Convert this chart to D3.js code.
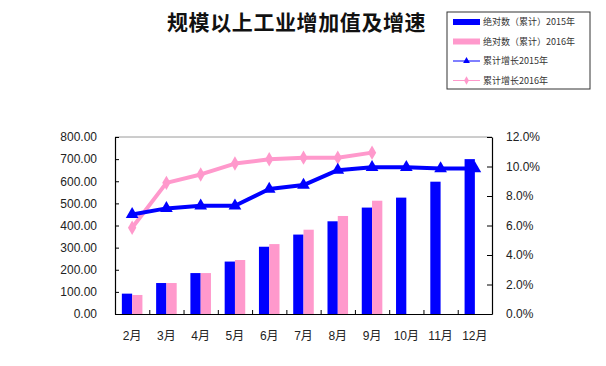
<!DOCTYPE html>
<html>
<head>
<meta charset="utf-8">
<script src="https://cdn.jsdelivr.net/npm/d3@7"></script>
<style>
  body { margin: 0; background: #fff; }
  svg { display: block; font-family: "Liberation Sans", Arial, "Noto Sans CJK SC", sans-serif; }
</style>
</head>
<body>
<div id="root"></div>
<script>
const months = ["2月", "3月", "4月", "5月", "6月", "7月", "8月", "9月", "10月", "11月", "12月"];
const value2015 = [92, 140, 185, 237, 304, 359, 419, 481, 526, 598, 700];
const value2016 = [86, 140, 185, 244, 316, 381, 443, 512];
const growth2015 = [6.75, 7.16, 7.34, 7.34, 8.47, 8.74, 9.75, 9.95, 9.95, 9.86, 9.86];
const growth2016 = [5.85, 8.89, 9.46, 10.2, 10.49, 10.6, 10.6, 10.94];
const leftTicks = [0, 100, 200, 300, 400, 500, 600, 700, 800];
const rightTicks = [0, 2, 4, 6, 8, 10, 12];
const legendItems = [
  { text: "绝对数（累计）2015年", type: "bar", color: "#0000ff" },
  { text: "绝对数（累计）2016年", type: "bar", color: "#ff99cc" },
  { text: "累计增长2015年", type: "line", color: "#0000ff", symbol: d3.symbolTriangle },
  { text: "累计增长2016年", type: "line", color: "#ff99cc", symbol: d3.symbolDiamond }
];

const W = 606, H = 366;
const plot = { left: 115, right: 492, top: 137, bottom: 314 };
const BLUE = "#0000ff", PINK = "#ff99cc";

const svg = d3.select("#root").append("svg")
  .attr("width", W)
  .attr("height", H);

svg.append("rect").attr("width", W).attr("height", H).attr("fill", "#fff");

// title
svg.append("text")
  .text("规模以上工业增加值及增速")
  .attr("x", 167)
  .attr("y", 30)
  .attr("font-family", "'Noto Sans CJK SC', sans-serif")
  .attr("font-size", 21)
  .attr("font-weight", "bold")
  .attr("letter-spacing", 0.6)
  .attr("fill", "#111");

// scales
const x = d3.scaleBand()
  .domain(months)
  .range([plot.left, plot.right])
  .paddingInner(0.4)
  .paddingOuter(0.2);

const xSub = d3.scaleBand()
  .domain(["2015", "2016"])
  .range([0, x.bandwidth()]);

const xEdge = d3.scaleLinear()
  .domain([0, months.length])
  .range([plot.left, plot.right]);

const yLeft = d3.scaleLinear().domain([0, 800]).range([plot.bottom, plot.top]);
const yRight = d3.scaleLinear().domain([0, 12]).range([plot.bottom, plot.top]);

// top border
svg.append("line")
  .attr("x1", plot.left).attr("x2", plot.right)
  .attr("y1", plot.top).attr("y2", plot.top)
  .attr("stroke", "#9a9a9a");

// bars
const bars2015 = value2015.map((v, i) => ({ m: months[i], v }));
const bars2016 = value2016.map((v, i) => ({ m: months[i], v }));

svg.append("g").selectAll("rect")
  .data(bars2015)
  .join("rect")
  .attr("x", d => x(d.m) + xSub("2015"))
  .attr("width", xSub.bandwidth())
  .attr("y", d => yLeft(d.v))
  .attr("height", d => yLeft(0) - yLeft(d.v))
  .attr("fill", BLUE);

svg.append("g").selectAll("rect")
  .data(bars2016)
  .join("rect")
  .attr("x", d => x(d.m) + xSub("2016"))
  .attr("width", xSub.bandwidth())
  .attr("y", d => yLeft(d.v))
  .attr("height", d => yLeft(0) - yLeft(d.v))
  .attr("fill", PINK);

// axes
const leftAxis = d3.axisLeft(yLeft)
  .tickValues(leftTicks)
  .tickFormat(d3.format(".2f"))
  .tickSizeInner(-4)
  .tickSizeOuter(0)
  .tickPadding(18);

const rightAxis = d3.axisRight(yRight)
  .tickValues(rightTicks)
  .tickFormat(d => d.toFixed(1) + "%")
  .tickSizeInner(-5)
  .tickSizeOuter(0)
  .tickPadding(14);

const bottomEdges = d3.axisBottom(xEdge)
  .tickValues(d3.range(1, months.length))
  .tickFormat("")
  .tickSizeInner(-4)
  .tickSizeOuter(0);

const bottomLabels = d3.axisBottom(x)
  .tickSize(0)
  .tickPadding(17);

function styleAxis(g) {
  g.select(".domain").attr("stroke", "#000").attr("stroke-width", 1.2);
  g.selectAll(".tick line").attr("stroke", "#000");
  g.selectAll(".tick text").attr("font-size", 12).attr("fill", "#222");
}

svg.append("g")
  .attr("transform", `translate(${plot.left},0)`)
  .call(leftAxis)
  .call(styleAxis);

svg.append("g")
  .attr("transform", `translate(${plot.right},0)`)
  .call(rightAxis)
  .call(styleAxis);

svg.append("g")
  .attr("transform", `translate(0,${plot.bottom})`)
  .call(bottomEdges)
  .call(styleAxis);

svg.append("g")
  .attr("transform", `translate(0,${plot.bottom})`)
  .call(bottomLabels)
  .call(g => g.select(".domain").remove())
  .call(styleAxis)
  .selectAll("text")
  .attr("font-family", "'Liberation Sans', 'Noto Sans CJK SC', sans-serif");

// lines
const cx = m => x(m) + x.bandwidth() / 2;

const line = d3.line()
  .x(d => cx(d.m))
  .y(d => yRight(d.v));

const pts2015 = growth2015.map((v, i) => ({ m: months[i], v }));
const pts2016 = growth2016.map((v, i) => ({ m: months[i], v }));

svg.append("path")
  .datum(pts2016)
  .attr("d", line)
  .attr("fill", "none")
  .attr("stroke", PINK)
  .attr("stroke-width", 4)
  .attr("stroke-linejoin", "round");

svg.append("g").selectAll("path")
  .data(pts2016)
  .join("path")
  .attr("transform", d => `translate(${cx(d.m)},${yRight(d.v)})`)
  .attr("d", d3.symbol(d3.symbolDiamond, 60))
  .attr("fill", PINK);

svg.append("path")
  .datum(pts2015)
  .attr("d", line)
  .attr("fill", "none")
  .attr("stroke", BLUE)
  .attr("stroke-width", 4)
  .attr("stroke-linejoin", "round");

svg.append("g").selectAll("path")
  .data(pts2015)
  .join("path")
  .attr("transform", d => `translate(${cx(d.m)},${yRight(d.v)})`)
  .attr("d", d3.symbol(d3.symbolTriangle, 70))
  .attr("fill", BLUE);

// legend
const legend = svg.append("g").attr("transform", "translate(447,12)");

legend.append("rect")
  .attr("width", 143)
  .attr("height", 77)
  .attr("fill", "#fff")
  .attr("stroke", "#333")
  .attr("stroke-width", 1);

const rows = legend.selectAll("g.item")
  .data(legendItems)
  .join("g")
  .attr("class", "item")
  .attr("transform", (d, i) => `translate(0,${10 + i * 19.5})`);

rows.filter(d => d.type === "bar").append("rect")
  .attr("x", 6).attr("y", -3)
  .attr("width", 27).attr("height", 6)
  .attr("fill", d => d.color);

rows.filter(d => d.type === "line").append("line")
  .attr("x1", 6).attr("x2", 33)
  .attr("stroke", d => d.color)
  .attr("stroke-width", 1);

rows.filter(d => d.type === "line").append("path")
  .attr("transform", "translate(19.5,0)")
  .attr("d", d => d3.symbol(d.symbol, 20)())
  .attr("fill", d => d.color);

rows.append("text")
  .text(d => d.text)
  .attr("x", 36)
  .attr("dy", "0.35em")
  .attr("font-size", 9)
  .attr("font-family", "'Noto Sans CJK SC', sans-serif")
  .attr("fill", "#333");
</script>
</body>
</html>
